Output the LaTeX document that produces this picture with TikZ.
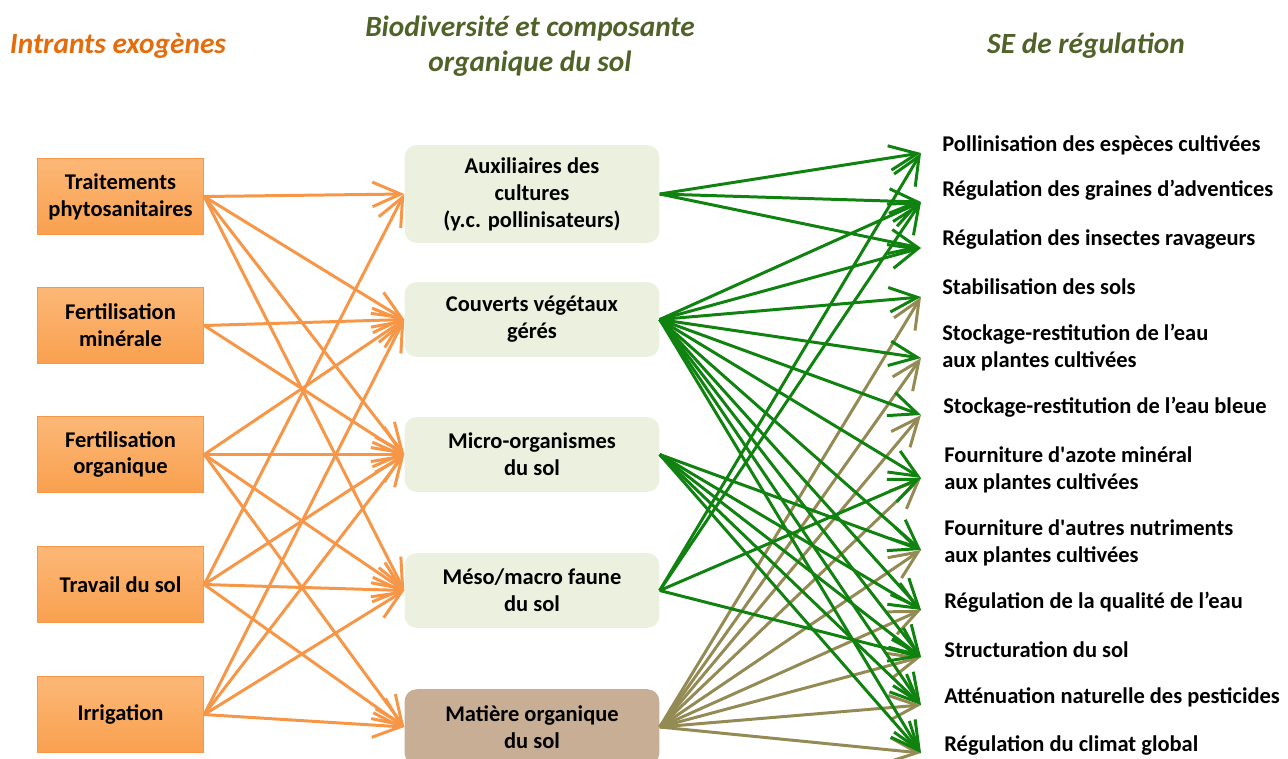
\documentclass[tikz,border=0pt]{standalone}
\usepackage{fontspec}
\setmainfont{Carlito}
\usetikzlibrary{arrows.meta}
\definecolor{inorange}{HTML}{F79646}
\definecolor{intop}{HTML}{FCB877}
\definecolor{inbot}{HTML}{F9A04F}
\definecolor{midgreen}{HTML}{EBF1DE}
\definecolor{midtan}{HTML}{C7AE94}
\definecolor{segreen}{HTML}{10820F}
\definecolor{seolive}{HTML}{948A54}
\definecolor{titorange}{HTML}{E46C0A}
\definecolor{titgreen}{HTML}{4F6228}

\begin{document}
\begin{tikzpicture}[x=0.02cm,y=-0.02cm,
  inbox/.style={draw=inorange,line width=0.6pt,top color=intop,bottom color=inbot,
    minimum width=94.7pt,minimum height=43.6pt,align=center,
    font=\fontsize{12.8}{15.3}\selectfont\bfseries},
  midbox/.style={fill=midgreen,rounded corners=6.8pt,minimum width=145pt,
    minimum height=42.5pt,align=center,font=\fontsize{12.8}{15.3}\selectfont\bfseries},
  sebox/.style={anchor=west,align=left,inner sep=0pt,
    font=\fontsize{12.8}{15.3}\selectfont\bfseries},
  title/.style={align=center,font=\fontsize{16.7}{19.8}\selectfont\bfseries\itshape},
  inarrow/.style={draw=inorange,line width=1.7pt,-{Straight Barb[length=16pt,width=14pt]}},
  searrow/.style={draw=segreen,line width=1.7pt,-{Straight Barb[length=16pt,width=14pt]}},
  moarrow/.style={draw=seolive,line width=1.7pt,-{Straight Barb[length=16pt,width=14pt]}}]
  \useasboundingbox (0,0) rectangle (1288,758);
  % column titles
  \node[title,text=titorange] (hin) at (118,46) {Intrants exogènes};
  \node[title,text=titgreen] (hmid) at (530,46.5) {Biodiversité et composante\\organique du sol};
  \node[title,text=titgreen] (hse) at (1086,46) {SE de régulation};
  % exogenous inputs
  \node[inbox] (trt) at (120.5,196.5) {Traitements\\phytosanitaires};
  \node[inbox] (fmin) at (120.5,325.5) {Fertilisation\\minérale};
  \node[inbox] (forg) at (120.5,454.5) {Fertilisation\\organique};
  \node[inbox] (trav) at (120.5,584.5) {Travail du sol};
  \node[inbox] (irr) at (120.5,714.5) {Irrigation};
  % biodiversity and soil organic matter
  \node[midbox,minimum height=55.6pt] (aux) at (532,194) {Auxiliaires des\\cultures\\(y.c. pollinisateurs)};
  \node[midbox] (couv) at (532,319.5) {Couverts végétaux\\gérés};
  \node[midbox] (micro) at (532,454.5) {Micro-organismes\\du sol};
  \node[midbox] (meso) at (532,590.5) {Méso/macro faune\\du sol};
  \node[midbox,fill=midtan,minimum height=43pt] (mos) at (532,727) {Matière organique\\du sol};
  % regulation services
  \node[sebox] (s1) at (942,145) {Pollinisation des espèces cultivées};
  \node[sebox] (s2) at (942,190) {Régulation des graines d’adventices};
  \node[sebox] (s3) at (942,239) {Régulation des insectes ravageurs};
  \node[sebox] (s4) at (942,287) {Stabilisation des sols};
  \node[sebox] (s5) at (942,348) {Stockage-restitution de l’eau\\aux plantes cultivées};
  \node[sebox] (s6) at (943,407) {Stockage-restitution de l’eau bleue};
  \node[sebox] (s7) at (944,470) {Fourniture d\textquotesingle azote minéral\\aux plantes cultivées};
  \node[sebox] (s8) at (944,543) {Fourniture d\textquotesingle autres nutriments\\aux plantes cultivées};
  \node[sebox] (s9) at (944,602) {Régulation de la qualité de l’eau};
  \node[sebox] (s10) at (944,650) {Structuration du sol};
  \node[sebox] (s11) at (944,697) {Atténuation naturelle des pesticides};
  \node[sebox] (s12) at (944,745) {Régulation du climat global};
  \foreach \i/\y in {1/153,2/202,3/248,4/297,5/358,6/415,7/478,8/550,9/610,10/657,11/705,12/753}
    \coordinate (t\i) at (921,\y);
  % inputs -> biodiversity
  \foreach \a/\b in {trt/aux,trt/couv,trt/micro,trt/meso,fmin/couv,fmin/micro,
      forg/couv,forg/micro,forg/meso,forg/mos,trav/aux,trav/micro,trav/meso,trav/mos,
      irr/couv,irr/micro,irr/meso,irr/mos}
    \draw[inarrow] (\a.east) -- (\b.west);
  % organic matter -> services
  \foreach \b in {4,...,12}
    \draw[moarrow] (mos.east) -- (t\b);
  % biodiversity -> services
  \foreach \a/\b in {aux/1,aux/2,aux/3,couv/2,couv/3,couv/4,couv/5,couv/6,couv/7,couv/8,
      couv/9,couv/10,couv/11,couv/12,micro/8,micro/9,micro/10,micro/11,micro/12,
      meso/1,meso/2,meso/7,meso/10}
    \draw[searrow] (\a.east) -- (t\b);
\end{tikzpicture}
\end{document}
